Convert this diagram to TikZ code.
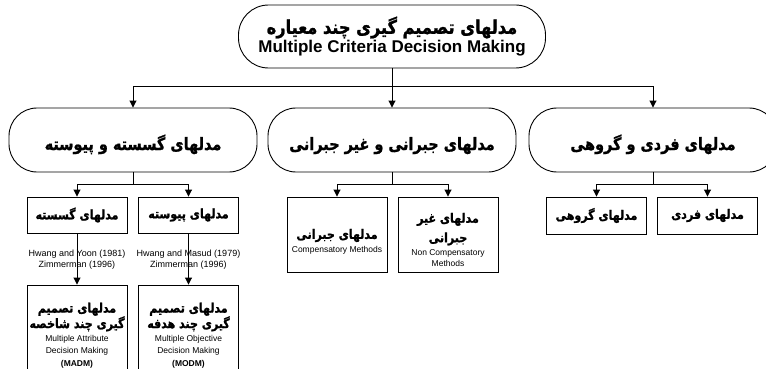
\documentclass[tikz,border=0pt]{standalone}
\usepackage{fontspec}
\setmainfont{Liberation Sans}
\newfontfamily\farsi[Script=Arabic,FakeStretch=0.85,FakeBold=1.2]{DejaVu Sans Bold}
\TeXXeTstate=1
\usetikzlibrary{shapes,arrows.meta}

\newcommand{\fa}[1]{{\farsi\beginR #1\endR}}
\newcommand{\smalltxt}{\fontsize{8.5}{10.5}\selectfont}

\begin{document}
\begin{tikzpicture}[x=1pt,y=-1pt,line width=0.9pt]
        \tikzstyle{every node}+=[inner sep=0pt]
        \tikzstyle{pill}=[draw, rounded corners=28pt, minimum width=248pt, minimum height=64pt, align=center, font=\fontsize{17}{20}\selectfont]
        \tikzstyle{box}=[draw, minimum width=100pt, align=center, font=\fontsize{13}{15.5}\selectfont]
        \tikzstyle{arr}=[-{Triangle[width=7pt,length=7pt]}]
        \clip (0,0) rectangle (766,369);
        % top
        \node[pill, rounded corners=30pt, minimum width=307pt, minimum height=63pt] (mcdm) at (392,36.5)
            {{\fontsize{19}{21}\selectfont\fa{مدلهای تصمیم گیری چند معیاره}}\\[-1pt] \textbf{Multiple Criteria Decision Making}};
        % first level
        \node[pill, text height=20pt, text depth=0pt] (gp) at (133,140) {\fa{مدلهای گسسته و پیوسته}};
        \node[pill, text height=20pt, text depth=0pt] (jg) at (392,140) {\fa{مدلهای جبرانی و غیر جبرانی}};
        \node[pill, text height=20pt, text depth=0pt] (fg) at (653,140) {\fa{مدلهای فردی و گروهی}};
        % second level
        \node[box, minimum height=36pt] (gos) at (77,215) {\fa{مدلهای گسسته}};
        \node[box, minimum height=36pt] (pay) at (188.5,215) {\fa{مدلهای پیوسته}};
        \node[box, minimum height=75pt] (jbr) at (337,234.5)
            {\rule{0pt}{24pt}\fa{مدلهای جبرانی}\\[-2pt] {\smalltxt Compensatory Methods}};
        \node[box, minimum height=75pt] (gjbr) at (448,234.5)
            {\rule{0pt}{20pt}\fa{مدلهای غیر}\\[4pt] \fa{جبرانی}\\[-2pt] {\smalltxt Non Compensatory}\\[-5pt] {\smalltxt Methods}};
        \node[box, minimum height=37pt] (grh) at (596.5,215.5) {\fa{مدلهای گروهی}};
        \node[box, minimum height=37pt] (frd) at (707.5,215.5) {\fa{مدلهای فردی}};
        % third level
        \node[box, minimum height=95pt] (madm) at (77,332.5)
            {\rule{0pt}{16pt}\fa{مدلهای تصمیم}\\ \fa{گیری چند شاخصه}\\[-2pt] {\smalltxt Multiple Attribute}\\[-4pt] {\smalltxt Decision Making}\\[-2pt] {\smalltxt\bfseries (MADM)}};
        \node[box, minimum height=95pt] (modm) at (188.5,332.5)
            {\rule{0pt}{16pt}\fa{مدلهای تصمیم}\\ \fa{گیری چند هدفه}\\[-2pt] {\smalltxt Multiple Objective}\\[-4pt] {\smalltxt Decision Making}\\[-2pt] {\smalltxt\bfseries (MODM)}};
        % branch points
        \coordinate (b0) at (392,86);
        \coordinate (b1) at (133,184.5);
        \coordinate (b2) at (392,184.5);
        \coordinate (b3) at (653,184.5);
        \draw (mcdm.south) -- (b0);
        \draw[arr] (b0) -| (gp.north);
        \draw[arr] (b0) -- (jg.north);
        \draw[arr] (b0) -| (fg.north);
        \draw (gp.south) -- (b1);
        \draw[arr] (b1) -| (gos.north);
        \draw[arr] (b1) -| (pay.north);
        \draw (jg.south) -- (b2);
        \draw[arr] (b2) -| (jbr.north);
        \draw[arr] (b2) -| (gjbr.north);
        \draw (fg.south) -- (b3);
        \draw[arr] (b3) -| (grh.north);
        \draw[arr] (b3) -| (frd.north);
        \draw[arr] (gos.south) -- (madm.north)
            node[midway, yshift=-1pt, align=center, font=\fontsize{9}{11}\selectfont] (ref1) {Hwang and Yoon (1981)\\ Zimmerman (1996)};
        \draw[arr] (pay.south) -- (modm.north)
            node[midway, yshift=-1pt, align=center, font=\fontsize{9}{11}\selectfont] (ref2) {Hwang and Masud (1979)\\ Zimmerman (1996)};
\end{tikzpicture}
\end{document}
